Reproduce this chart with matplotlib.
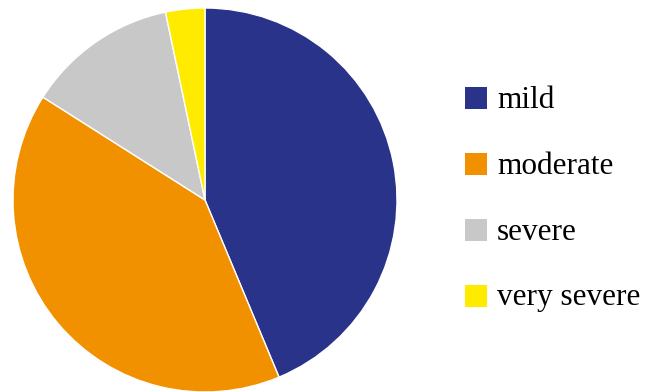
import matplotlib.pyplot as plt
from matplotlib.patches import Rectangle
from matplotlib.font_manager import FontProperties, findfont

labels = ["mild", "moderate", "severe", "very severe"]
values = [43.7, 40.3, 12.7, 3.3]
colors = ["#283389", "#F29100", "#C8C8C8", "#FFEB00"]

W, H = 647, 392
fig = plt.figure(figsize=(W / 100, H / 100), dpi=100)
ax = fig.add_axes([(205 - 192) / W, (H - 200 - 192) / H, 384 / W, 384 / H])
ax.pie(values, colors=colors, startangle=90, counterclock=False,
       wedgeprops=dict(edgecolor="white", linewidth=1))
ax.set_xlim(-1, 1)
ax.set_ylim(-1, 1)
ax.set_aspect("auto")
ax.axis("off")

serif = FontProperties(fname=findfont(FontProperties(family="Liberation Serif")), size=22.5)

# legend drawn by hand, in pixel units from the top-left
for i, (lab, c) in enumerate(zip(labels, colors)):
    yc = 98 + i * 66
    fig.patches.append(Rectangle((465 / W, 1 - (yc + 11) / H), 22 / W, 22 / H,
                                 facecolor=c, edgecolor="none", transform=fig.transFigure))
    fig.text(497 / W, 1 - (yc + 2) / H, lab, fontproperties=serif,
             va="center", ha="left")

fig.savefig("out.png", dpi=100)
